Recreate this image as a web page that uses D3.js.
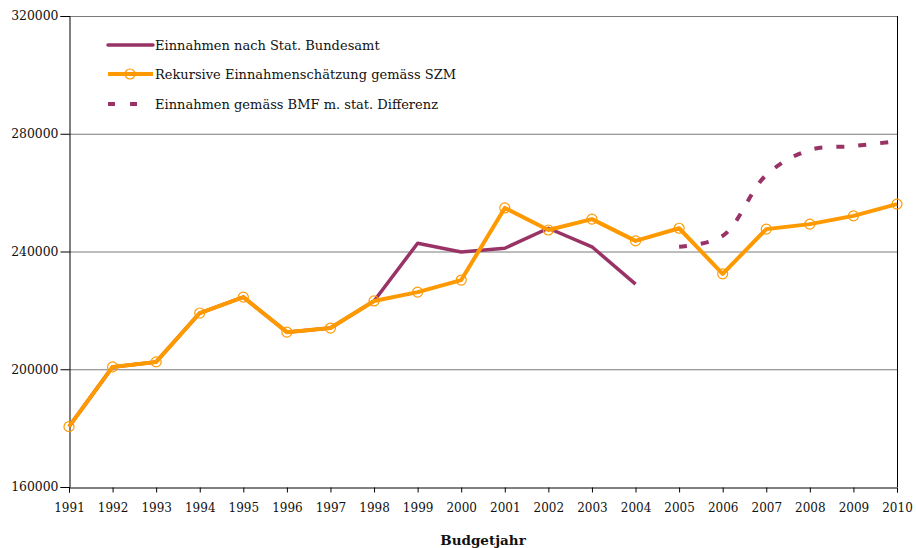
<!DOCTYPE html>
<html>
<head>
<meta charset="utf-8">
<script src="https://cdn.jsdelivr.net/npm/d3@7"></script>
<style>
  html, body { margin: 0; padding: 0; background: #fff; }
  svg { display: block; font-family: "DejaVu Serif", serif; }
</style>
</head>
<body>
<svg id="chart" width="916" height="548"></svg>
<script>
// Budget years on the x axis
const years = d3.range(1991, 2011);

// Receipts according to the Federal Statistical Office (1991–2004)
const statYears = d3.range(1991, 2005);
const statValues = [180500, 200800, 202500, 219100, 224500, 212600, 214000, 223200,
                    242800, 239800, 241100, 247900, 241600, 228900];

// Recursive receipts estimate (SZM), 1991–2010
const szmValues = [180500, 200800, 202500, 219100, 224500, 212600, 214000, 223200,
                   226200, 230300, 254800, 247300, 251000, 243600, 247900, 232400,
                   247600, 249300, 252100, 256100];

// Receipts per BMF incl. statistical difference (2005–2010)
const bmfYears = d3.range(2005, 2011);
const bmfValues = [241600, 245300, 266000, 274500, 275800, 277500];

const yTicks = [160000, 200000, 240000, 280000, 320000];

const seriesNames = [
  "Einnahmen nach Stat. Bundesamt",
  "Rekursive Einnahmenschätzung gemäss SZM",
  "Einnahmen gemäss BMF m. stat. Differenz"
];
const xTitle = "Budgetjahr";

const PURPLE = "#993366";
const ORANGE = "#FF9900";

const svg = d3.select("#chart");
const plotLeft = 69, plotRight = 897, plotTop = 16, plotBottom = 487;

const x = d3.scaleLinear().domain([1991, 2010]).range([plotLeft, plotRight]);
const y = d3.scaleLinear().domain([160000, 320000]).range([plotBottom, plotTop]);

// horizontal gridlines
svg.append("g")
  .selectAll("line")
  .data(yTicks.filter(v => v > 160000))
  .join("line")
  .attr("x1", plotLeft).attr("x2", plotRight)
  .attr("y1", d => y(d) + 0.5).attr("y2", d => y(d) + 0.5)
  .attr("stroke", "#7a7a7a").attr("stroke-width", 1);

// right frame edge
svg.append("line")
  .attr("x1", plotRight + 0.5).attr("x2", plotRight + 0.5)
  .attr("y1", plotTop).attr("y2", plotBottom)
  .attr("stroke", "#000").attr("stroke-width", 1);

// y axis
const yAxis = svg.append("g")
  .attr("transform", `translate(${plotLeft + 0.5},0)`)
  .call(d3.axisLeft(y).tickValues(yTicks).tickSize(9).tickPadding(2).tickFormat(d3.format("d")));
yAxis.select(".domain").attr("stroke", "#000");
yAxis.selectAll(".tick line").attr("stroke", "#000");
yAxis.selectAll("text").attr("font-family", "DejaVu Serif").attr("font-size", 12.4).attr("fill", "#111");

// x axis
const xAxis = svg.append("g")
  .attr("transform", `translate(0,${plotBottom + 0.5})`)
  .call(d3.axisBottom(x).tickValues(years).tickSize(5).tickPadding(11).tickFormat(d3.format("d")));
xAxis.select(".domain").attr("stroke", "#000");
xAxis.selectAll(".tick line").attr("stroke", "#000");
xAxis.selectAll("text").attr("font-family", "DejaVu Serif").attr("font-size", 12).attr("fill", "#111");

svg.append("text")
  .attr("x", 483).attr("y", 545)
  .attr("text-anchor", "middle")
  .attr("font-family", "DejaVu Serif").attr("font-weight", "bold").attr("font-size", 13.5)
  .attr("fill", "#111")
  .text(xTitle);

// lines
const line = d3.line().x(d => x(d[0])).y(d => y(d[1]));
const smooth = d3.line().x(d => x(d[0])).y(d => y(d[1])).curve(d3.curveCatmullRom.alpha(0.5));

svg.append("path")
  .datum(bmfYears.map((yr, i) => [yr, bmfValues[i]]))
  .attr("d", smooth)
  .attr("fill", "none").attr("stroke", PURPLE).attr("stroke-width", 4)
  .attr("stroke-dasharray", "8,14");

svg.append("path")
  .datum(statYears.map((yr, i) => [yr, statValues[i]]))
  .attr("d", line)
  .attr("fill", "none").attr("stroke", PURPLE).attr("stroke-width", 3.5)
  .attr("stroke-linejoin", "round");

const szm = years.map((yr, i) => [yr, szmValues[i]]);
svg.append("path")
  .datum(szm)
  .attr("d", line)
  .attr("fill", "none").attr("stroke", ORANGE).attr("stroke-width", 4)
  .attr("stroke-linejoin", "round");

svg.append("g")
  .selectAll("circle")
  .data(szm)
  .join("circle")
  .attr("cx", d => x(d[0])).attr("cy", d => y(d[1]))
  .attr("r", 5)
  .attr("fill", "none").attr("stroke", ORANGE).attr("stroke-width", 1.2);

// legend
const legend = svg.append("g");
const lx1 = 108, lx2 = 153, tx = 155;
const rows = [45, 74, 104];

legend.append("line")
  .attr("x1", lx1).attr("x2", lx2).attr("y1", rows[0]).attr("y2", rows[0])
  .attr("stroke", PURPLE).attr("stroke-width", 3.5).attr("stroke-linecap", "round");

legend.append("line")
  .attr("x1", lx1).attr("x2", lx2).attr("y1", rows[1]).attr("y2", rows[1])
  .attr("stroke", ORANGE).attr("stroke-width", 4);
legend.append("circle")
  .attr("cx", 130).attr("cy", rows[1]).attr("r", 5)
  .attr("fill", "none").attr("stroke", ORANGE).attr("stroke-width", 1.2);

legend.append("line")
  .attr("x1", lx1).attr("x2", 138).attr("y1", rows[2]).attr("y2", rows[2])
  .attr("stroke", PURPLE).attr("stroke-width", 4).attr("stroke-dasharray", "7,15");

legend.selectAll("text")
  .data(seriesNames)
  .join("text")
  .attr("x", tx).attr("y", (d, i) => rows[i] + 5)
  .attr("font-family", "DejaVu Serif").attr("font-size", 13).attr("fill", "#111")
  .text(d => d);
</script>
</body>
</html>
